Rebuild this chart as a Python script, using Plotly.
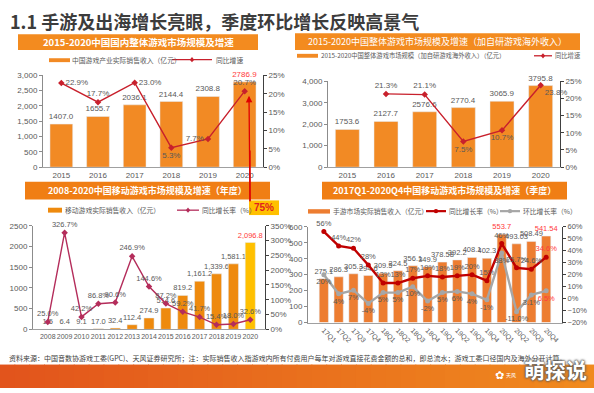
import plotly.graph_objects as go

W, H = 594, 393
def fx(p): return p / W
def fy(p): return 1 - p / H

FONT = "Liberation Sans, Noto Sans CJK SC, sans-serif"
CJK = "Noto Sans CJK SC, sans-serif"
GRAY = "#595959"

# ---------------- data ----------------
c1_years = ["2015", "2016", "2017", "2018", "2019", "2020"]
c1_revenue = [1407.0, 1655.7, 2036.1, 2144.4, 2308.8, 2786.9]
c1_growth = [22.9, 17.7, 23.0, 5.3, 7.7, 20.7]

c2_years = ["2015", "2016", "2017", "2018", "2019", "2020"]
c2_revenue = [1753.6, 2127.7, 2576.6, 2770.4, 3065.9, 3795.8]
c2_growth = [None, 21.3, 21.1, 7.5, 10.7, 23.8]

c3_years = ["2008", "2009", "2010", "2011", "2012", "2013", "2014",
            "2015", "2016", "2017", "2018", "2019", "2020"]
c3_revenue = [1.5, 6.4, 9.1, 17.0, 32.4, 112.4, 274.9, 514.6, 819.2,
              1161.2, 1339.6, 1581.1, 2096.8]
c3_growth = [25.0, 326.7, 42.2, 86.8, 90.6, 246.9, 144.6, 87.2, 59.2,
             41.7, 15.4, 18.0, 32.6]

c4_quarters = ["17Q1", "17Q2", "17Q3", "17Q4", "18Q1", "18Q2", "18Q3", "18Q4",
               "19Q1", "19Q2", "19Q3", "19Q4", "20Q1", "20Q2", "20Q3", "20Q4"]
c4_revenue = [275.1, 286.3, 305.3, 294.6, 309.5, 324.5, 356.1, 349.9,
              378.58, 392.2, 408.1, 402.3, 553.7, 493.03, 508.49, 541.54]
c4_yoy = [56, 44, 42, 28, 13, 13, 17, 19, 18, 19, 20, 15, 46, 25.7, 24.6, 34.6]
c4_qoq = [20, 4, 7, -4, 5, 5, 10, -2, 5, 6, 4, -1, 38, -11.0, 3.1, 6.5]
c4_qoq_labels = ["20%", "4%", "7%", "-4%", "5%", "5%", "10%", "-2%", "5%", "6%",
                 "4%", "-1%", "38%", "-11.0%", "3.1%", "6.5%"]

ORANGE12 = "#F28A24"
ORANGE3 = "#EE8A0E"
GOLD = "#FFC000"
ORANGE4 = "#ED7D31"
RED = "#C8202C"
RED4 = "#C00000"
MAGENTA = "#B42D5B"
LGRAY = "#A6A6A6"
HILITE = "#FF3B3B"

fig = go.Figure()

# ---------------- chart 1 ----------------
fig.add_trace(go.Bar(x=c1_years, y=c1_revenue, xaxis="x", yaxis="y",
                     marker_color=ORANGE12, width=0.62,
                     text=[f"{v:.1f}" for v in c1_revenue], textposition="outside",
                     constraintext="none", cliponaxis=False,
                     textfont=dict(size=8, color=[GRAY] * 5 + [HILITE])))
fig.add_trace(go.Scatter(x=c1_years, y=c1_growth, xaxis="x", yaxis="y2",
                         mode="lines+markers+text", line=dict(color=RED, width=1.4),
                         marker=dict(symbol="diamond", size=5, color=RED),
                         text=[f"{v:.1f}%" for v in c1_growth],
                         textposition=["middle right", "top center", "middle right",
                                       "bottom center", "middle left", "top center"],
                         textfont=dict(size=8, color=GRAY), cliponaxis=False))

# ---------------- chart 2 ----------------
fig.add_trace(go.Bar(x=c2_years, y=c2_revenue, xaxis="x2", yaxis="y3",
                     marker_color=ORANGE12, width=0.62,
                     text=[f"{v:.1f}" for v in c2_revenue], textposition="outside",
                     constraintext="none", cliponaxis=False,
                     textfont=dict(size=8, color=GRAY)))
fig.add_trace(go.Scatter(x=c2_years, y=c2_growth, xaxis="x2", yaxis="y4",
                         mode="lines+markers+text", line=dict(color=RED, width=1.4),
                         marker=dict(symbol="diamond", size=5, color=RED),
                         text=["" if v is None else f"{v:.1f}%" for v in c2_growth],
                         textposition=["top center", "top center", "top center",
                                       "bottom center", "bottom center", "bottom right"],
                         textfont=dict(size=8, color=GRAY), cliponaxis=False))

# ---------------- chart 3 ----------------
fig.add_trace(go.Bar(x=c3_years, y=c3_revenue, xaxis="x3", yaxis="y5",
                     marker_color=[ORANGE3] * 12 + [GOLD], width=0.6,
                     text=[f"{v:,.1f}" for v in c3_revenue], textposition="outside",
                     constraintext="none", cliponaxis=False,
                     textfont=dict(size=7.5, color=[GRAY] * 12 + [HILITE])))
fig.add_trace(go.Scatter(x=c3_years, y=c3_growth, xaxis="x3", yaxis="y6",
                         mode="lines+markers+text", line=dict(color=MAGENTA, width=1.4),
                         marker=dict(symbol="diamond", size=5, color=MAGENTA),
                         text=[f"{v:.1f}%" for v in c3_growth],
                         textposition="top center",
                         textfont=dict(size=7.5, color=GRAY), cliponaxis=False))

# ---------------- chart 4 ----------------
c4_bar_colors = [GRAY] * 16
c4_bar_colors[12] = HILITE
c4_bar_colors[15] = HILITE
fig.add_trace(go.Bar(x=c4_quarters, y=c4_revenue, xaxis="x4", yaxis="y7",
                     marker_color=ORANGE4, width=0.62,
                     text=[f"{v:g}" for v in c4_revenue], textposition="outside",
                     constraintext="none", cliponaxis=False,
                     textfont=dict(size=7.5, color=c4_bar_colors)))
fig.add_trace(go.Scatter(x=c4_quarters, y=c4_yoy, xaxis="x4", yaxis="y8",
                         mode="lines+markers+text", line=dict(color=RED4, width=2.4),
                         marker=dict(symbol="circle", size=5, color=RED4),
                         text=[f"{v:g}%" for v in c4_yoy], textposition="top center",
                         textfont=dict(size=7.5, color=[GRAY] * 15 + [HILITE]),
                         cliponaxis=False))
fig.add_trace(go.Scatter(x=c4_quarters, y=c4_qoq, xaxis="x4", yaxis="y8",
                         mode="lines+markers+text", line=dict(color=LGRAY, width=2.4),
                         marker=dict(symbol="circle", size=5, color=LGRAY),
                         text=c4_qoq_labels, textposition="bottom center",
                         textfont=dict(size=7.5, color=[GRAY] * 15 + [HILITE]),
                         cliponaxis=False))

# ---------------- axes ----------------
tickf = dict(size=8, color=GRAY, family=FONT)
tickf_small = dict(size=7, color=GRAY, family=FONT)
def xax(dom, anchor, angle=0, font=tickf):
    return dict(domain=[fx(dom[0]), fx(dom[1])], anchor=anchor, type="category",
                showline=True, linecolor="#A0A0A0", linewidth=1, ticks="",
                tickfont=font, tickangle=angle, showgrid=False, zeroline=False,
                fixedrange=True)
def yax(dom, anchor, rng, dtick, fmt="", suffix=""):
    return dict(domain=[fy(dom[1]), fy(dom[0])], anchor=anchor, range=rng, dtick=dtick,
                tickformat=fmt, ticksuffix=suffix, showline=True, linecolor="#8C8C8C",
                linewidth=1, ticks="outside", ticklen=3, tickcolor="#8C8C8C",
                tickfont=tickf, showgrid=False, zeroline=False)
def y2ax(base, anchor, rng, dtick, suffix="%", font=tickf):
    return dict(overlaying=base, anchor=anchor, side="right", range=rng, dtick=dtick,
                ticksuffix=suffix, showline=True, linecolor="#404040", linewidth=1,
                ticks="outside", ticklen=3, tickcolor="#404040", tickfont=font,
                showgrid=False, zeroline=False)

fig.update_layout(
    xaxis=xax((43, 263), "y"),
    yaxis=yax((73, 167), "x", [0, 3000], 500, ","),
    yaxis2=y2ax("y", "x", [0, 25], 5),
    xaxis2=xax((328, 560), "y3"),
    yaxis3=yax((79, 167), "x2", [0, 4000], 1000, ","),
    yaxis4=y2ax("y3", "x2", [0, 25], 5),
    xaxis3=xax((33, 265), "y5", 0, tickf_small),
    yaxis5=yax((227, 333), "x3", [0, 2500], 500),
    yaxis6=y2ax("y5", "x3", [0, 350], 50),
    xaxis4=xax((308, 562), "y7", 45, tickf_small),
    yaxis7=yax((228, 326), "x4", [0, 600], 100),
    yaxis8=y2ax("y7", "x4", [-20, 60], 10, font=dict(size=7.5, color=GRAY, family=FONT)),
)

shapes = []
annotations = []

def rect(x0, y0, x1, y1, color):
    shapes.append(dict(type="rect", xref="paper", yref="paper", x0=fx(x0), x1=fx(x1),
                       y0=fy(y1), y1=fy(y0), fillcolor=color, line=dict(width=0),
                       layer="below"))
def seg(x0, y0, x1, y1, color, w):
    shapes.append(dict(type="line", xref="paper", yref="paper", x0=fx(x0), x1=fx(x1),
                       y0=fy(y0), y1=fy(y1), line=dict(color=color, width=w)))
def text(x, y, s, size=7, color=GRAY, anchor="left", bold=False, family=CJK, **kw):
    if bold:
        s = f"<b>{s}</b>"
    annotations.append(dict(xref="paper", yref="paper", x=fx(x), y=fy(y), text=s,
                            showarrow=False, xanchor=anchor, yanchor="middle",
                            borderpad=0,
                            font=dict(size=size, color=color, family=family), **kw))
def dot(x, y, color, r=2, sym="circle"):
    if sym == "circle":
        shapes.append(dict(type="circle", xref="paper", yref="paper",
                           x0=fx(x - r), x1=fx(x + r), y0=fy(y + r), y1=fy(y - r),
                           fillcolor=color, line=dict(width=0)))
    else:
        shapes.append(dict(type="path", xref="paper", yref="paper",
                           path=f"M {fx(x)} {fy(y - r - 0.5)} L {fx(x + r)} {fy(y)} "
                                f"L {fx(x)} {fy(y + r + 0.5)} L {fx(x - r)} {fy(y)} Z",
                           fillcolor=color, line=dict(width=0)))

# main title
text(9, 17, "1.1 手游及出海增长亮眼，季度环比增长反映高景气", size=18, color="#3C3C3C",
     bold=True)

# banners
BAN = "#F38B1F"
rect(18, 31, 258, 47, BAN)
text(138, 39, "2015-2020中国国内整体游戏市场规模及增速", size=9.5, color="white",
     anchor="center", bold=True)
rect(295, 30, 580, 47, BAN)
text(437, 38.5, "2015-2020中国整体游戏市场规模及增速（加自研游戏海外收入）", size=9,
     color="white", anchor="center")
rect(25, 182, 270, 200, "#F07E14")
text(147, 191, "2008-2020中国移动游戏市场规模及增速（年度）", size=9, color="white",
     anchor="center", bold=True)
rect(322, 182, 567, 200, "#F07E14")
text(444, 191, "2017Q1-2020Q4中国移动游戏市场规模及增速（季度）", size=9,
     color="white", anchor="center", bold=True)

# legends
rect(49, 55.5, 70, 59.5, ORANGE12)
text(71, 57, "中国游戏产业实际销售收入（亿元）", size=6.8)
seg(172, 57, 212, 57, RED, 1.3); dot(192, 57, RED, 2.2, "d")
text(215, 57, "同比增速", size=6.8)

rect(297, 51, 318, 55, ORANGE12)
text(320, 53, "2015-2020中国整体游戏市场规模（加自研游戏海外收入）（亿元）", size=6.3)
seg(534, 53, 552, 53, RED, 1.3); dot(543, 53, RED, 2.2, "d")
text(554, 53, "同比增速", size=6.3)

rect(48, 208.5, 62, 213.5, ORANGE3)
text(64, 211, "移动游戏实际销售收入（亿元）", size=6.8)
seg(177, 211, 199, 211, MAGENTA, 1.3); dot(188, 211, MAGENTA, 2.2, "d")
text(201, 211, "同比增长率（%）", size=6.8)

rect(308, 210, 330, 214.5, ORANGE4)
text(332, 212, "手游市场实际销售收入（亿元）", size=6.8)
seg(426, 212, 446, 212, RED4, 2.2); dot(436, 212, RED4, 2.2)
text(448, 212, "同比增长率（%）", size=6.8)
seg(500, 212, 520, 212, LGRAY, 2.2); dot(510, 212, LGRAY, 2.2)
text(522, 212, "环比增长率（%）", size=6.8)

# arrow + 75% box
annotations.append(dict(xref="paper", yref="paper", x=fx(249), y=fy(94), ax=1, ay=107,
                        text="", showarrow=True, arrowhead=2, arrowsize=1,
                        arrowwidth=1.3, arrowcolor="#E00000", standoff=0))
seg(250, 150, 250, 202, "#E00000", 1.3)
rect(249, 201, 279, 216, GOLD)
text(264, 208.5, "75%", size=10, color="#E02020", anchor="center", bold=True,
     family=FONT)

# footer
text(8, 362, "资料来源：中国音数协游戏工委(GPC)、天风证券研究所；注：实际销售收入指游戏内所有付费用户每年对游戏直接花费金额的总和，即总流水；游戏工委口径国内及海外分开计算。",
     size=7.0, color="#404040")

# bottom gradient band
n = 40
c0, c1 = (226, 84, 28), (240, 138, 30)
for i in range(n):
    t = i / (n - 1)
    col = "rgb({},{},{})".format(*[round(a + (b - a) * t) for a, b in zip(c0, c1)])
    rect(i * W / n - 0.5, 369, (i + 1) * W / n + 0.5, 393, col)

text(499, 380, "✿", size=11, color="white", anchor="center", family="DejaVu Sans")
text(505, 380, "天风", size=5, color="white")
text(523, 374, "萌探说", size=21, color="white", anchor="left", bold=True,
     family=CJK)
annotations[-1]["font"]["shadow"] = "0 0 2px #555, 0 0 2px #555, 0 0 3px #666"

fig.update_layout(
    width=W, height=H, margin=dict(l=0, r=0, t=0, b=0, pad=0),
    paper_bgcolor="white", plot_bgcolor="rgba(0,0,0,0)",
    showlegend=False, bargap=0.3, hovermode=False,
    font=dict(family=FONT, color=GRAY),
    shapes=shapes, annotations=annotations,
)

fig.write_html("out.html", config={"displayModeBar": False, "staticPlot": True},
               post_script="document.body.style.margin='0';"
                           "document.body.style.overflow='hidden';")
